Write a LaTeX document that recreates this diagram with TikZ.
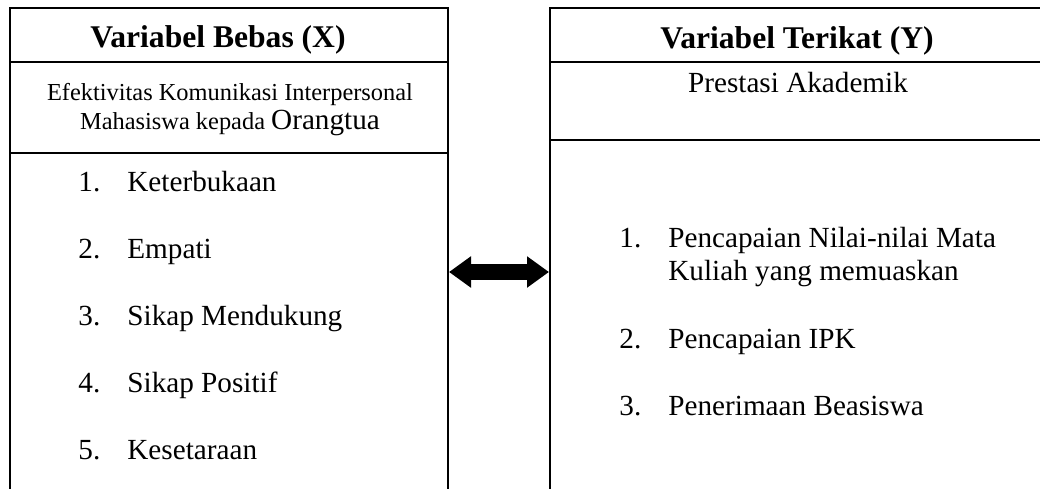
\documentclass[tikz,border=0pt]{standalone}
\usepackage{fontspec}
\setmainfont{Liberation Serif}
\usetikzlibrary{arrows.meta}

\begin{document}
\begin{tikzpicture}[x=0.5pt,y=-0.5pt,
  kotak/.style={draw,line width=1pt,inner sep=0pt,minimum height=264pt},
  judul/.style={font=\fontsize{15.8}{19}\selectfont\bfseries,inner sep=0pt,anchor=base},
  isi/.style={font=\fontsize{14.6}{16.5}\selectfont,inner sep=0pt},
  kecil/.style={font=\fontsize{12.2}{14.5}\selectfont,inner sep=0pt,align=center,anchor=base},
  panah/.style={line width=8pt,{Triangle[length=11pt,width=15pt]}-{Triangle[length=11pt,width=15pt]}}]
  \clip (0,0) rectangle (1040,488);
  % kotak variabel
  \node[kotak,minimum width=219pt] (bebas) at (229,272) {};
  \node[kotak,minimum width=248pt] (terikat) at (798,272) {};
  \draw[line width=1pt] (bebas.west |- 0,62) -- (bebas.east |- 0,62);
  \draw[line width=1pt] (bebas.west |- 0,153) -- (bebas.east |- 0,153);
  \draw[line width=1pt] (terikat.west |- 0,62) -- (terikat.east |- 0,62);
  \draw[line width=1pt] (terikat.west |- 0,140) -- (terikat.east |- 0,140);
  % judul
  \node[judul] (jx) at (218,47) {Variabel Bebas (X)};
  \node[judul] (jy) at (797,48) {Variabel Terikat (Y)};
  \node[kecil] (nx) at (230,129) {Efektivitas Komunikasi Interpersonal\\Mahasiswa kepada {\fontsize{14.6}{14.5}\selectfont Orangtua}};
  \node[isi,anchor=base] (ny) at (798,92) {Prestasi Akademik};
  % indikator X
  \foreach \i/\t in {1/Keterbukaan,2/Empati,3/Sikap Mendukung,4/Sikap Positif,5/Kesetaraan}{
    \node[isi,anchor=base west] (xn\i) at (78,{191+67*(\i-1)}) {\i.};
    \node[isi,anchor=base west] (xt\i) at (127,{191+67*(\i-1)}) {\t};
  }
  % indikator Y
  \node[isi,anchor=base west] (yn1) at (619,247) {1.};
  \node[isi,anchor=base west,align=left] (yt1) at (668,280) {Pencapaian Nilai-nilai Mata\\Kuliah yang memuaskan};
  \node[isi,anchor=base west] (yn2) at (619,348) {2.};
  \node[isi,anchor=base west] (yt2) at (668,348) {Pencapaian IPK};
  \node[isi,anchor=base west] (yn3) at (619,415) {3.};
  \node[isi,anchor=base west] (yt3) at (668,415) {Penerimaan Beasiswa};
  % hubungan
  \draw[panah] (bebas.east) -- (terikat.west);
\end{tikzpicture}
\end{document}
